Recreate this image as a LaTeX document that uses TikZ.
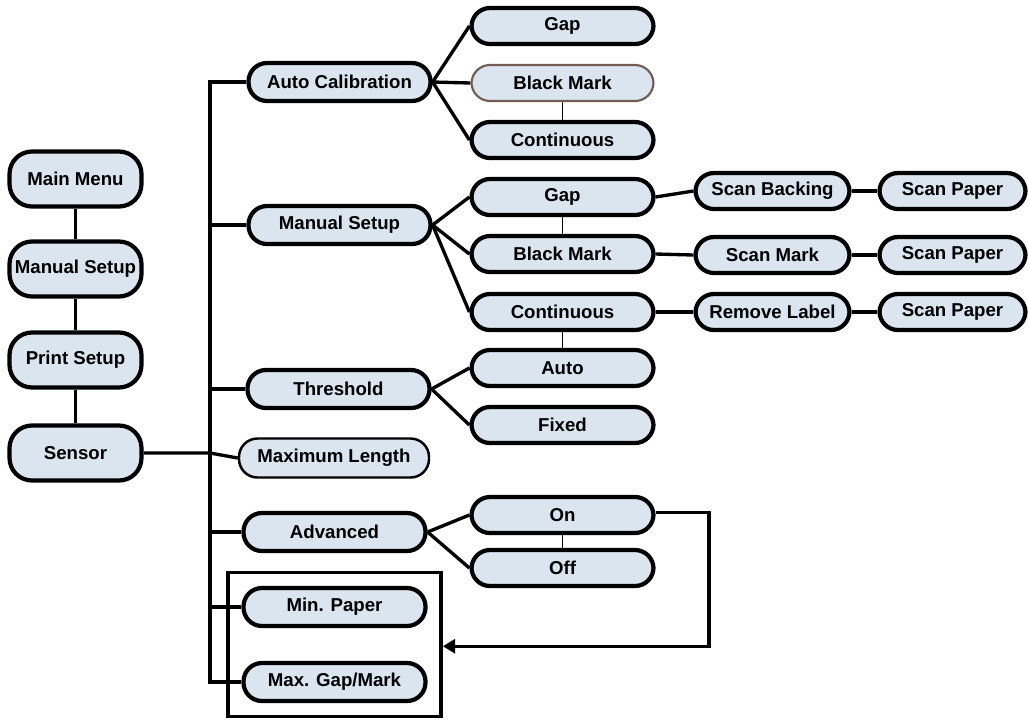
\documentclass[tikz,border=0pt]{standalone}
\usepackage{fontspec}
\setmainfont{Liberation Sans}
\usetikzlibrary{arrows.meta,fit}
\definecolor{menufill}{RGB}{218,229,239}
\definecolor{markedge}{RGB}{112,92,82}
\begin{document}
\begin{tikzpicture} [menu/.style = {draw, line width = 2.4pt, fill = menufill, rounded corners = 0.37cm,
		minimum width = 3.64cm, minimum height = 0.72cm, inner sep = 0pt,
		font = \bfseries\fontsize{10.6}{12}\selectfont},
	top/.style = {menu, rounded corners = 0.45cm, minimum width = 2.64cm, minimum height = 1.1cm},
	conn/.style = {line width = 1.9pt},
	thin/.style = {line width = 0.6pt}]
	\useasboundingbox (0,0) rectangle (20.58,-14.42);
	% left column
	\node [top] (mm) at (1.51,-3.58) {Main Menu};
	\node [top] (ms1) at (1.51,-5.38) {Manual Setup};
	\node [top] (ps) at (1.51,-7.2) {Print Setup};
	\node [top] (sen) at (1.51,-9.06) {Sensor};
	\draw [conn] (mm) -- (ms1);
	\draw [conn] (ms1) -- (ps);
	\draw [conn] (ps) -- (sen);
	% sensor menu
	\node [menu, minimum height = 0.76cm] (ac) at (6.79,-1.64) {Auto Calibration};
	\node [menu, minimum height = 0.76cm] (ms2) at (6.79,-4.5) {Manual Setup};
	\node [menu, minimum height = 0.76cm] (th) at (6.77,-7.78) {Threshold};
	\node [menu, minimum height = 0.78cm, minimum width = 3.8cm, line width = 1.4pt] (ml) at (6.68,-9.16) {Maximum Length};
	\node [menu, minimum height = 0.76cm] (adv) at (6.69,-10.64) {Advanced};
	\node [menu, minimum height = 0.76cm] (mp) at (6.69,-12.14) {Min. Paper};
	\node [menu, minimum height = 0.76cm] (mg) at (6.69,-13.64) {Max. Gap/Mark};
	\coordinate (trunk) at (4.2,0);
	\draw [conn] (ac.west) -- (ac.west -| trunk) -- (mg.west -| trunk) -- (mg.west);
	\draw [conn] (ms2.west) -- (ms2.west -| trunk);
	\draw [conn] (th.west) -- (th.west -| trunk);
	\draw [conn] (adv.west) -- (adv.west -| trunk);
	\draw [conn] (mp.west) -- (mp.west -| trunk);
	\draw [conn] (sen.east) -- (sen.east -| trunk) -- (ml.west);
	\node [draw, line width = 2pt, inner sep = 0.27cm, fit = (mp) (mg)] (box) {};
	% auto calibration
	\node [menu] (g1) at (11.25,-0.52) {Gap};
	\node [menu, draw = markedge, line width = 1.2pt] (bm1) at (11.25,-1.66) {Black Mark};
	\node [menu] (co1) at (11.25,-2.8) {Continuous};
	\draw [conn] (ac.east) -- (g1.west);
	\draw [conn] (ac.east) -- (bm1.west);
	\draw [conn] (ac.east) -- (co1.west);
	\draw [thin] (bm1) -- (co1);
	% manual setup
	\node [menu] (g2) at (11.25,-3.94) {Gap};
	\node [menu] (bm2) at (11.25,-5.08) {Black Mark};
	\node [menu] (co2) at (11.25,-6.24) {Continuous};
	\draw [conn] (ms2.east) -- (g2.west);
	\draw [conn] (ms2.east) -- (bm2.west);
	\draw [conn] (ms2.east) -- (co2.west);
	\draw [thin] (g2) -- (bm2);
	\node [menu, minimum width = 3.08cm] (sb) at (15.45,-3.82) {Scan Backing};
	\node [menu, minimum width = 3.08cm] (sm) at (15.45,-5.1) {Scan Mark};
	\node [menu, minimum width = 3.08cm] (rl) at (15.45,-6.24) {Remove Label};
	\node [menu, minimum width = 2.92cm] (sp1) at (19.05,-3.82) {Scan Paper};
	\node [menu, minimum width = 2.92cm] (sp2) at (19.05,-5.1) {Scan Paper};
	\node [menu, minimum width = 2.92cm] (sp3) at (19.05,-6.24) {Scan Paper};
	\draw [conn] (g2.east) -- (sb.west);
	\draw [conn] (bm2.east) -- (sm.west);
	\draw [conn] (co2.east) -- (rl.west);
	\draw [conn] (sb) -- (sp1);
	\draw [conn] (sm) -- (sp2);
	\draw [conn] (rl) -- (sp3);
	% threshold
	\node [menu] (au) at (11.25,-7.36) {Auto};
	\node [menu] (fx) at (11.25,-8.5) {Fixed};
	\draw [conn] (th.east) -- (au.west);
	\draw [conn] (th.east) -- (fx.west);
	\draw [thin] (co2) -- (au);
	% advanced
	\node [menu] (on) at (11.25,-10.3) {On};
	\node [menu] (off) at (11.25,-11.36) {Off};
	\draw [conn] (adv.east) -- (on.west);
	\draw [conn] (adv.east) -- (off.west);
	\draw [thin] (on) -- (off);
	\coordinate (turn) at (14.18,0);
	\draw [conn, -{Triangle[length = 7pt, width = 8pt]}] ([yshift = 1.5pt] on.east) -- ([yshift = 1.5pt] on.east -| turn) |- ([yshift = -1pt] box.east);
\end{tikzpicture}
\end{document}
